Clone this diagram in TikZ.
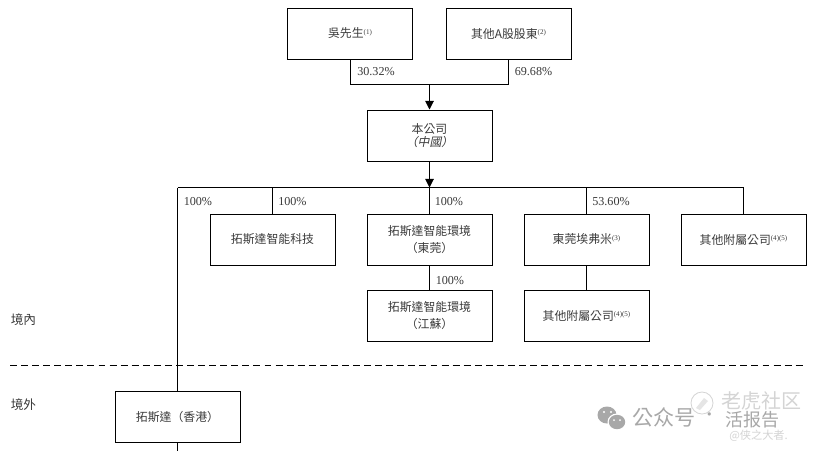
\documentclass[tikz,border=0pt]{standalone}
\usepackage{fontspec}
\setmainfont{Liberation Serif}
\newfontfamily\cjk{Noto Sans CJK TC}
\newfontfamily\cjkit[FakeSlant=0.2]{Noto Sans CJK TC}
\usetikzlibrary{arrows.meta}
\definecolor{ink}{HTML}{3A3A3A}
\definecolor{wm}{HTML}{A8A8A8}
\definecolor{wmlight}{HTML}{D4D4D4}
\tikzset{
  box/.style={draw=black,line width=0.75pt,minimum width=93.75pt,minimum height=38.25pt,inner sep=0pt,align=center,text=ink,font=\cjk\fontsize{8.9}{12.6}\selectfont},
  link/.style={draw=black,line width=0.75pt},
  arrowlink/.style={link,-{Triangle[length=6.5pt,width=6.5pt]}},
  pct/.style={anchor=west,inner sep=0pt,text=ink,font=\fontsize{9.1}{10}\selectfont},
  zone/.style={anchor=west,inner sep=0pt,text=ink,font=\cjk\fontsize{9.5}{11}\selectfont},
  wmark/.style={anchor=west,inner sep=0pt,text=wm},
  wmarkl/.style={anchor=west,inner sep=0pt,text=wmlight}
}
\newcommand{\sps}[1]{\raisebox{0.32em}{\fontsize{5.3}{5.5}\selectfont\rmfamily #1}}
\begin{document}
\begin{tikzpicture}[x=0.75pt,y=-0.75pt]
\useasboundingbox (0,0) rectangle (817,451);
\fill[white] (0,0) rectangle (817,451);
% boxes
\node[box] (wu) at (350,33.5) {吳先生\sps{(1)}};
\node[box] (other) at (508.5,33.5) {其他A股股東\sps{(2)}};
\node[box] (co) at (429.5,135.5) {本公司\\[-3pt]{\cjkit（中國）}};
\node[box] (tech) at (272.5,239.5) {拓斯達智能科技};
\node[box] (dg) at (429.5,239.5) {拓斯達智能環境\\（東莞）};
\node[box] (efm) at (586.5,239.5) {東莞埃弗米\sps{(3)}};
\node[box] (sub1) at (743.5,239.5) {其他附屬公司\sps{(4)(5)}};
\node[box] (js) at (429.5,315.5) {拓斯達智能環境\\（江蘇）};
\node[box] (sub2) at (586.5,315.5) {其他附屬公司\sps{(4)(5)}};
\node[box] (hk) at (177.5,416.5) {拓斯達（香港）};
% junctions
\coordinate (top) at (429.5,84);
\coordinate (bus) at (429.5,187.5);
\coordinate (busl) at (177.5,187.5);
\coordinate (busr) at (743.5,187.5);
\coordinate (bottom) at (177.5,451);
\coordinate (dashl) at (10,365.5);
\coordinate (dashr) at (806,365.5);
% connectors
\draw[link] (wu.south -| top) ++(-79.5,0) |- (top);
\draw[link] (other.south -| top) ++(79,0) |- (top);
\draw[arrowlink] (top) -- (co.north);
\draw[arrowlink] (co.south) -- (bus);
\draw[link] (busl) -- (busr);
\draw[link] (busl) -- (hk.north);
\draw[link] (hk.south) -- (bottom);
\draw[link] (tech.north |- bus) -- (tech.north);
\draw[link] (bus) -- (dg.north);
\draw[link] (efm.north |- bus) -- (efm.north);
\draw[link] (busr) -- (sub1.north);
\draw[link] (dg.south) -- (js.north);
\draw[link] (efm.south) -- (sub2.north);
\draw[draw=black,line width=0.75pt,dash pattern=on 5.2pt off 3.1pt] (dashl) -- (dashr);
% percentages
\node[pct] (p1) at (357,72) {30.32\%};
\node[pct] (p2) at (514.5,72) {69.68\%};
\node[pct] (p3) at (183.5,202) {100\%};
\node[pct] (p4) at (278,202) {100\%};
\node[pct] (p5) at (434.5,202) {100\%};
\node[pct] (p6) at (592,202) {53.60\%};
\node[pct] (p7) at (435.5,280.5) {100\%};
% zones
\node[zone] (in) at (10.5,320) {境內};
\node[zone] (out) at (10.5,404.5) {境外};
% watermark
\draw[wmlight,line width=0.6pt] (702,403) circle (11);
\fill[wmlight,opacity=.6] (704,398) -- (708,401) -- (700,410) -- (696,408) -- cycle;
\fill[wm] (607,415) ellipse (9.5 and 8.5);
\fill[white] (617,422) ellipse (9.5 and 8.5);
\fill[wm] (617,422) ellipse (8.2 and 7.2);
\fill[white] (604,412) circle (1.2) (611,412) circle (1.2) (614,420) circle (1) (620,420) circle (1);
\node[wmark,font=\cjk\fontsize{15.8}{16}\selectfont] (w1) at (632,417) {公众号};
\node[wmark,font=\cjk\fontsize{12}{13}\selectfont] (w2) at (701,417) {·};
\node[wmarkl,font=\cjk\fontsize{15}{16}\selectfont] (w3) at (721,401) {老虎社区};
\node[wmark,font=\cjk\fontsize{13.5}{14}\selectfont] (w4) at (725,419.5) {活报告};
\node[wmarkl,font=\cjk\fontsize{8.4}{9}\selectfont] (w5) at (729,436) {@侠之大者.};
\end{tikzpicture}
\end{document}
